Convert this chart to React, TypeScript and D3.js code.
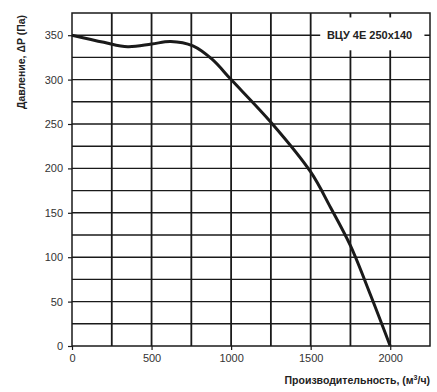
import React, { useEffect, useRef } from "react";
import * as d3 from "d3";

// fan curve
const flow = [0, 200, 350, 500, 620, 760, 880, 1000, 1250, 1500, 1625, 1750, 1875, 2000];
const pressure = [350, 342, 337, 340, 343, 338, 323, 300, 252, 196, 156, 113, 58, 0];

const xTicks = [0, 500, 1000, 1500, 2000];
const yTicks = [0, 50, 100, 150, 200, 250, 300, 350];
const xGrid = d3.range(250, 2250, 250);
const yGrid = d3.range(25, 375, 25);

const modelLabel = "ВЦУ 4E 250x140";
const yTitle = "Давление, ΔP (Па)";

const App = () => {
  const svgRef = useRef<SVGSVGElement>(null);

  useEffect(() => {
    const width = 437,
      height = 392;
    const margin = { top: 13, right: 7, bottom: 46, left: 72 };
    const innerW = width - margin.left - margin.right;
    const innerH = height - margin.top - margin.bottom;

    const svg = d3.select(svgRef.current);
    svg.selectAll("*").remove();
    svg.attr("width", width).attr("height", height);

    const g = svg.append("g").attr("transform", `translate(${margin.left},${margin.top})`);

    const x = d3.scaleLinear().domain([0, 2250]).range([0, innerW]);
    const y = d3.scaleLinear().domain([0, 375]).range([innerH, 0]);

    const ink = "#1a1a1a";
    const font = "'Liberation Sans', Arial, sans-serif";

    // grid
    g.selectAll(".hgrid")
      .data(yGrid)
      .enter()
      .append("line")
      .attr("x1", 0)
      .attr("x2", innerW)
      .attr("y1", (d) => y(d))
      .attr("y2", (d) => y(d))
      .attr("stroke", ink)
      .attr("stroke-width", 1.4);

    g.selectAll(".vgrid")
      .data(xGrid)
      .enter()
      .append("line")
      .attr("x1", (d) => x(d))
      .attr("x2", (d) => x(d))
      .attr("y1", 0)
      .attr("y2", innerH)
      .attr("stroke", ink)
      .attr("stroke-width", 1.8);

    // frame
    g.append("rect")
      .attr("width", innerW)
      .attr("height", innerH)
      .attr("fill", "none")
      .attr("stroke", ink)
      .attr("stroke-width", 1.5);

    // axes
    const xAxis = g
      .append("g")
      .attr("transform", `translate(0,${innerH})`)
      .call(d3.axisBottom(x).tickValues(xTicks).tickFormat(d3.format("d")).tickSize(4).tickPadding(4));
    const yAxis = g
      .append("g")
      .call(d3.axisLeft(y).tickValues(yTicks).tickFormat(d3.format("d")).tickSize(4).tickPadding(5));
    [xAxis, yAxis].forEach((a) => {
      a.select(".domain").remove();
      a.selectAll("line").attr("stroke", ink).attr("stroke-width", 1.2);
      a.selectAll("text").attr("fill", "#333").style("font-family", font).style("font-size", "11px");
    });

    // curve
    const line = d3
      .line<number>()
      .x((d, i) => x(flow[i]))
      .y((d) => y(d))
      .curve(d3.curveCatmullRom.alpha(0.5));
    g.append("path")
      .attr("d", line(pressure))
      .attr("fill", "none")
      .attr("stroke", ink)
      .attr("stroke-width", 3)
      .attr("stroke-linejoin", "round");

    // model label with white box
    g.append("rect")
      .attr("x", x(1560))
      .attr("y", y(370))
      .attr("width", x(2215) - x(1560))
      .attr("height", y(333) - y(370))
      .attr("fill", "#fff");
    g.append("text")
      .attr("x", x(1870))
      .attr("y", y(350))
      .attr("dy", "0.35em")
      .attr("text-anchor", "middle")
      .style("font-family", font)
      .style("font-size", "11px")
      .style("font-weight", "bold")
      .attr("fill", "#222")
      .text(modelLabel);

    // titles
    svg
      .append("text")
      .attr("transform", `translate(25,62) rotate(-90)`)
      .attr("text-anchor", "middle")
      .style("font-family", font)
      .style("font-size", "10.5px")
      .style("font-weight", "bold")
      .attr("fill", "#222")
      .text(yTitle);

    const xt = svg
      .append("text")
      .attr("x", margin.left + innerW)
      .attr("y", 384)
      .attr("text-anchor", "end")
      .style("font-family", font)
      .style("font-size", "10.5px")
      .style("font-weight", "bold")
      .attr("fill", "#222");
    xt.append("tspan").text("Производительность, (м");
    xt.append("tspan").attr("dy", -4).style("font-size", "7px").text("3");
    xt.append("tspan").attr("dy", 4).text("/ч)");
  }, []);

  return <svg ref={svgRef} style={{ position: "absolute", left: 0, top: 0 }}></svg>;
};

export default App;
